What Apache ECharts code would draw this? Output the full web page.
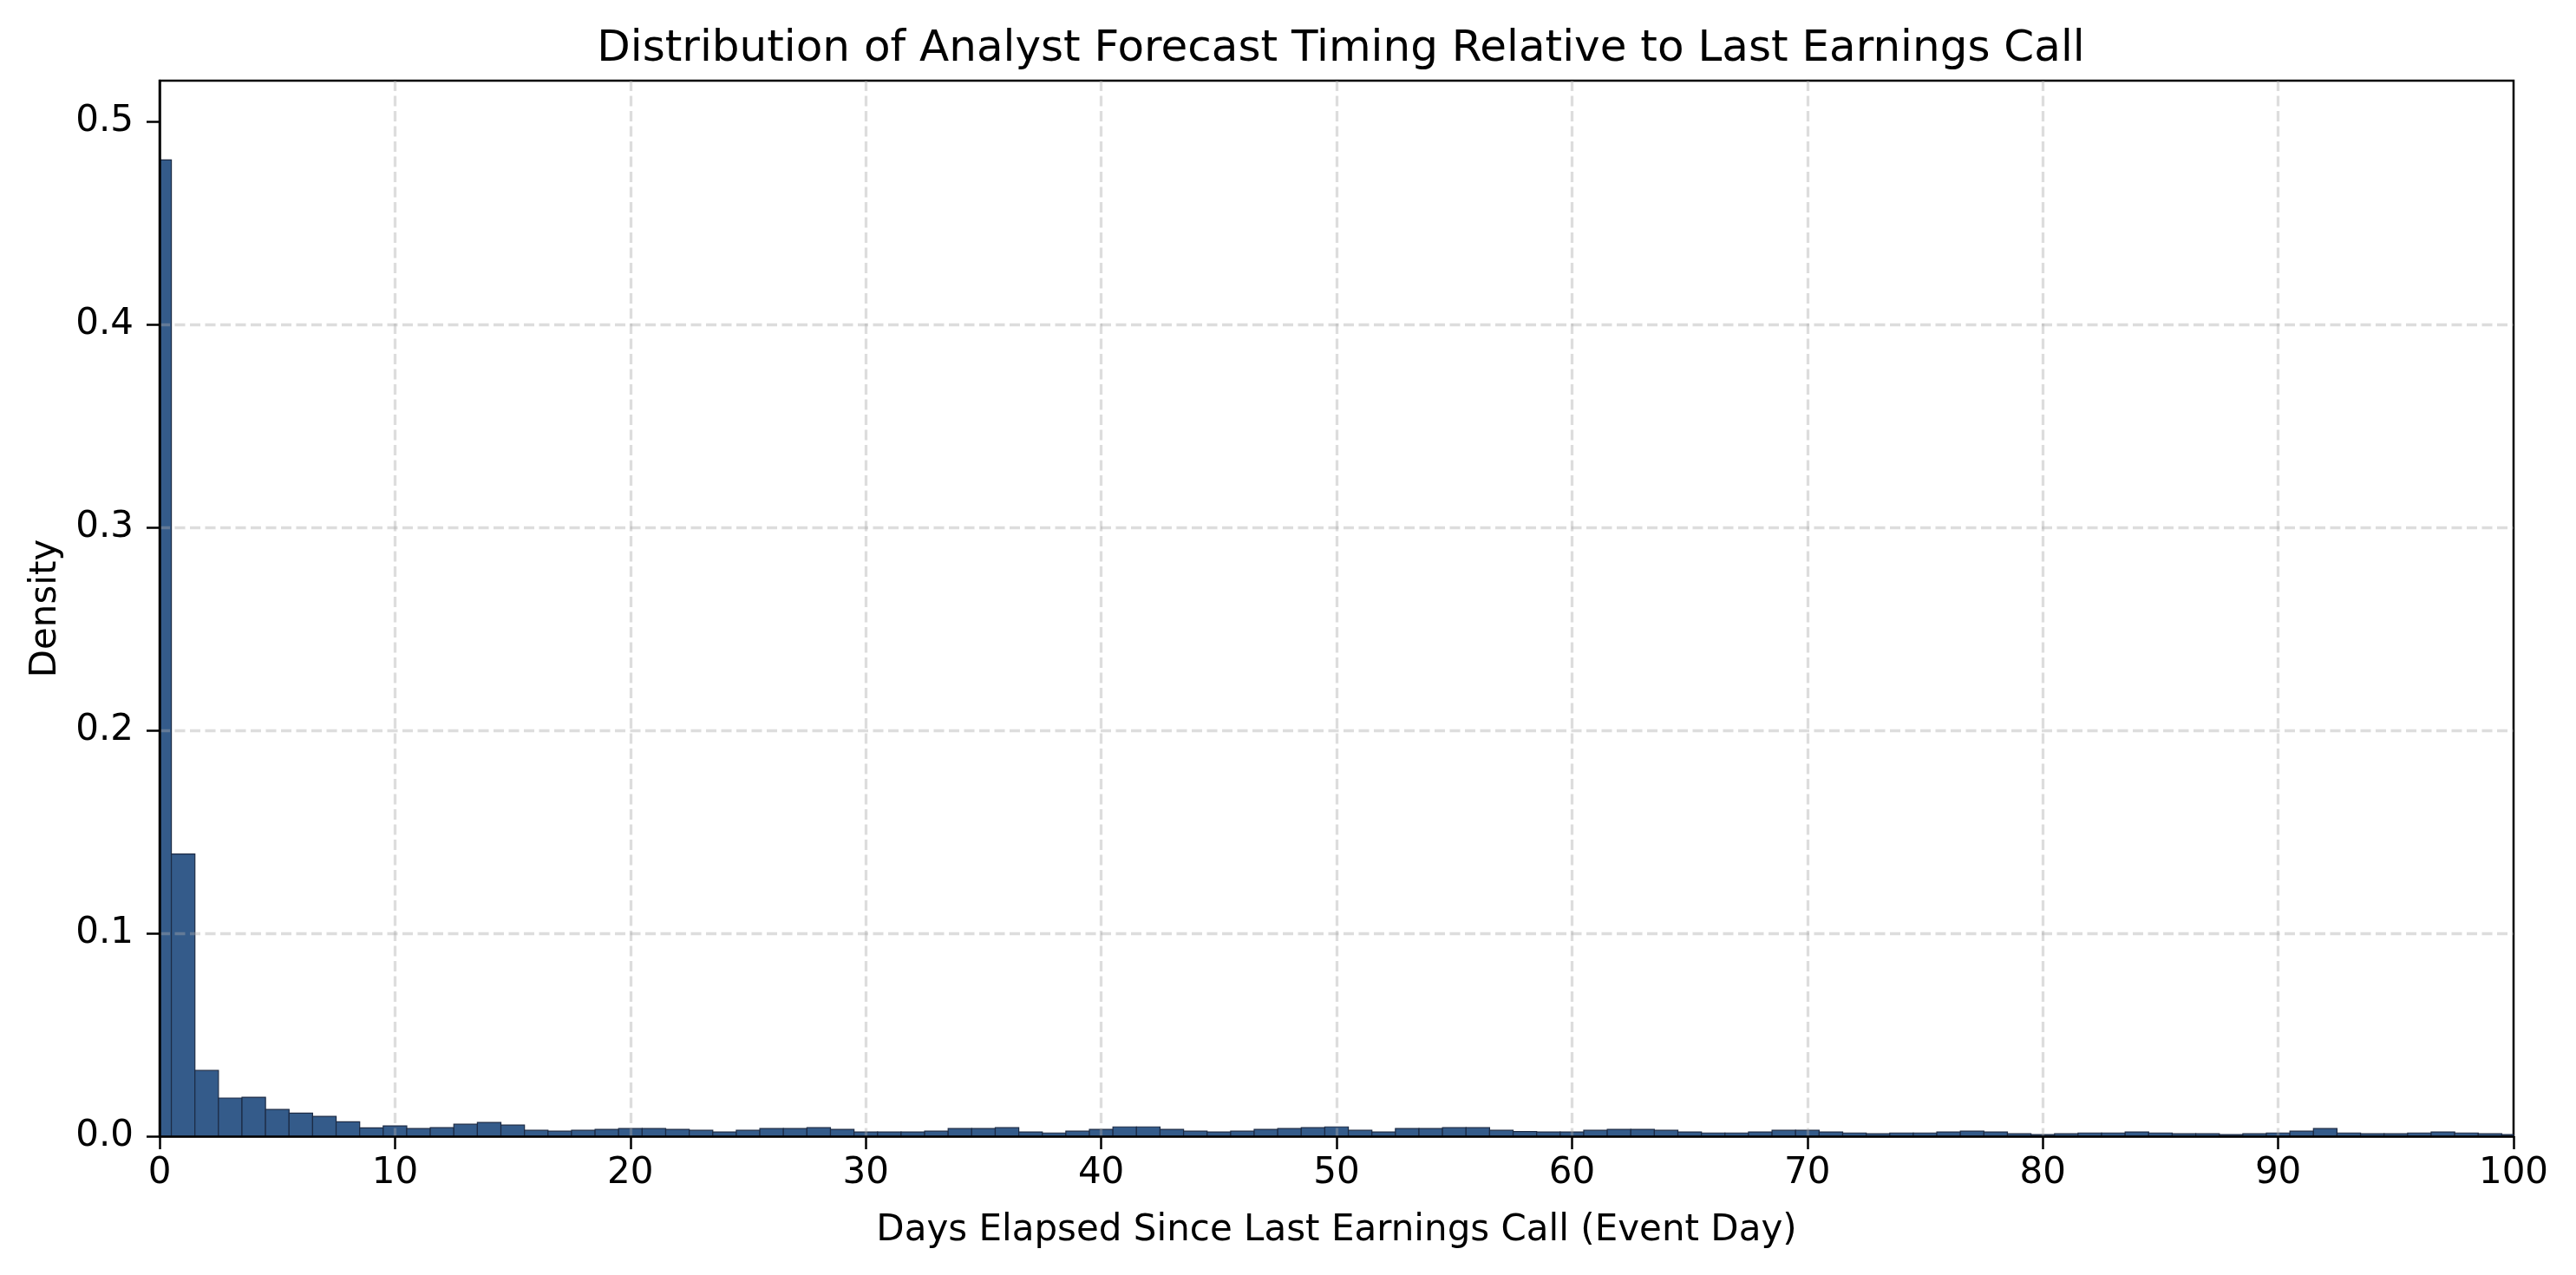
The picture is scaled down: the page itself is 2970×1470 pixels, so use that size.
<!DOCTYPE html>
<html>
<head>
<meta charset="utf-8">
<title>Analyst Forecast Timing</title>
<script src="https://cdn.jsdelivr.net/npm/echarts@6/dist/echarts.min.js"></script>
<style>
  html, body { margin: 0; padding: 0; background: #fff; }
  #main { width: 2970px; height: 1470px; }
</style>
</head>
<body>
<div id="main"></div>
<script>
// bin centres (days since last earnings call), one-day bins
var days = [];
for (var d = 0; d <= 100; d++) days.push(d);

// density per bin
var density = [
  0.481, 0.139, 0.0324, 0.0188, 0.0192, 0.0132, 0.0114, 0.0098, 0.0071, 0.0041,
  0.0051, 0.0038, 0.0042, 0.0059, 0.0068, 0.0055, 0.0029, 0.0025, 0.0029, 0.0034,
  0.0038, 0.0038, 0.0034, 0.0029, 0.0021, 0.0029, 0.0038, 0.0038, 0.0042, 0.0034,
  0.0021, 0.0021, 0.0021, 0.0025, 0.0038, 0.0038, 0.0042, 0.0021, 0.0016, 0.0025,
  0.0034, 0.0046, 0.0046, 0.0034, 0.0025, 0.0021, 0.0025, 0.0034, 0.0038, 0.0042,
  0.0046, 0.0029, 0.0021, 0.0038, 0.0038, 0.0042, 0.0042, 0.0029, 0.0023, 0.0021,
  0.0021, 0.0029, 0.0034, 0.0034, 0.0029, 0.0021, 0.0016, 0.0016, 0.0021, 0.0029,
  0.0029, 0.0021, 0.0016, 0.0012, 0.0016, 0.0016, 0.0021, 0.0025, 0.0021, 0.0012,
  0.0008, 0.0012, 0.0016, 0.0016, 0.0021, 0.0016, 0.0012, 0.0012, 0.0008, 0.0012,
  0.0016, 0.0025, 0.0038, 0.0016, 0.0012, 0.0012, 0.0016, 0.0021, 0.0016, 0.0012,
  0.0008
];

var yTicks = [0, 0.1, 0.2, 0.3, 0.4, 0.5];
var binWidth = 1;

var FONT = 'DejaVu Sans';
var myChart = echarts.init(document.getElementById('main'));

function renderBin(params, api) {
  var x = api.value(0), y = api.value(1);
  var p0 = api.coord([x - binWidth / 2, y]);
  var p1 = api.coord([x + binWidth / 2, 0]);
  var cs = params.coordSys;
  var shape = echarts.graphic.clipRectByRect(
    { x: p0[0], y: p0[1], width: p1[0] - p0[0], height: p1[1] - p0[1] },
    { x: cs.x, y: cs.y, width: cs.width, height: cs.height }
  );
  if (!shape) return;
  return {
    type: 'rect',
    shape: shape,
    style: { fill: '#345b8a', stroke: '#1c2b45', lineWidth: 1.2 }
  };
}

var gridLine = {
  show: true,
  showMinLine: false,
  showMaxLine: false,
  lineStyle: { color: 'rgba(170,170,170,0.4)', width: 3.3, type: [12, 5.5] }
};

var option = {
  backgroundColor: '#fff',
  animation: false,
  title: {
    text: 'Distribution of Analyst Forecast Timing Relative to Last Earnings Call',
    left: 1541,
    top: 27,
    textAlign: 'center',
    textStyle: { fontFamily: FONT, fontSize: 50, fontWeight: 'normal', color: '#000' }
  },
  grid: {
    left: 184, right: 72, top: 93, bottom: 160,
    show: true, borderColor: '#000', borderWidth: 2.5, backgroundColor: 'transparent'
  },
  xAxis: {
    type: 'value',
    min: 0, max: 100, interval: 10,
    z: 5,
    name: 'Days Elapsed Since Last Earnings Call (Event Day)',
    nameLocation: 'middle',
    nameGap: 88,
    nameTextStyle: { fontFamily: FONT, fontSize: 42, color: '#000' },
    axisLine: { show: true, onZero: false, lineStyle: { color: '#000', width: 2.5 } },
    axisTick: { show: true, length: 15, lineStyle: { color: '#000', width: 2.5 } },
    axisLabel: { fontFamily: FONT, fontSize: 42, color: '#000', margin: 22 },
    splitLine: gridLine
  },
  yAxis: {
    type: 'value',
    min: 0, max: 0.52,
    z: 5,
    name: 'Density',
    nameLocation: 'middle',
    nameGap: 110,
    nameTextStyle: { fontFamily: FONT, fontSize: 42, color: '#000' },
    axisLine: { show: true, onZero: false, lineStyle: { color: '#000', width: 2.5 } },
    axisTick: { show: true, length: 15, customValues: yTicks, lineStyle: { color: '#000', width: 2.5 } },
    axisLabel: {
      fontFamily: FONT, fontSize: 42, color: '#000', margin: 30,
      customValues: yTicks,
      formatter: function (v) { return v.toFixed(1); }
    },
    splitLine: gridLine
  },
  series: [{
    type: 'custom',
    renderItem: renderBin,
    encode: { x: 0, y: 1 },
    data: days.map(function (d, i) { return [d, density[i]]; })
  }]
};

myChart.setOption(option);
window.onresize = myChart.resize;
</script>
</body>
</html>
